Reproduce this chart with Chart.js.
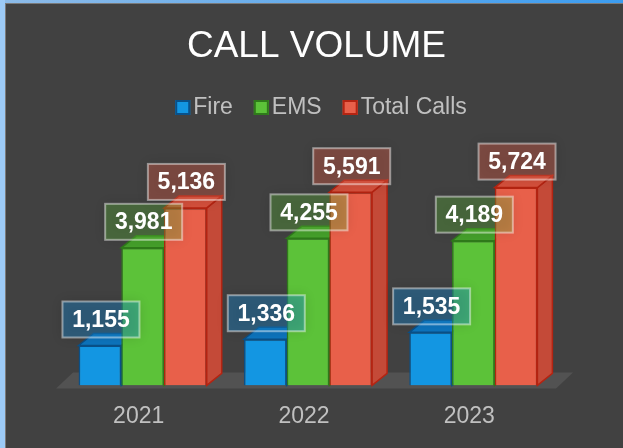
<!DOCTYPE html>
<html>
<head>
<meta charset="utf-8">
<script src="https://cdn.jsdelivr.net/npm/chart.js@4"></script>
<style>
  html, body { margin: 0; padding: 0; background: #414141; }
  #wrap { width: 623px; height: 448px; position: relative; }
</style>
</head>
<body>
<div id="wrap"><canvas id="callVolumeChart" width="623" height="448"></canvas></div>
<script>
// values
const years = ['2021', '2022', '2023'];
const fireCalls = [1155, 1336, 1535];
const emsCalls = [3981, 4255, 4189];
const totalCalls = [5136, 5591, 5724];

const FONT = '"Liberation Sans", Arial, sans-serif';

// front, top, side, edge colours for each series
const palette = [
  { front: '#1396e2', top: '#0d74bd', side: '#0b65a6', edge: '#0a5088', box: 'rgba(24,140,215,0.38)' },
  { front: '#5cc239', top: '#45a02b', side: '#3c8e25', edge: '#2f7a1b', box: 'rgba(100,200,60,0.30)' },
  { front: '#e8604a', top: '#d4503c', side: '#c44a38', edge: '#b42412', box: 'rgba(232,96,74,0.36)' }
];

const DX = 15, DY = 12;

// background with the blue window edge, title and legend
const backdrop = {
  id: 'backdrop',
  beforeDraw(chart) {
    const ctx = chart.ctx;
    ctx.save();
    ctx.fillStyle = '#414141';
    ctx.fillRect(0, 0, chart.width, chart.height);
    const g = ctx.createLinearGradient(0, 0, chart.width, 0);
    g.addColorStop(0, '#8dbbe8');
    g.addColorStop(1, '#3b9cf0');
    ctx.fillStyle = g;
    ctx.fillRect(0, 0, chart.width, 3);
    ctx.fillStyle = '#9ccaf6';
    ctx.fillRect(0, 0, 5, chart.height);
    ctx.fillStyle = '#7a7a7a';
    ctx.fillRect(5, 3, 1, chart.height);
    ctx.fillRect(5, 3, chart.width, 1);

    ctx.fillStyle = '#ffffff';
    ctx.font = '37px ' + FONT;
    ctx.textAlign = 'center';
    ctx.textBaseline = 'alphabetic';
    ctx.fillText('CALL VOLUME', 316.5, 57);

    ctx.font = '23px ' + FONT;
    ctx.textAlign = 'left';
    const items = chart.data.datasets.map((d, i) => ({ label: d.label, w: ctx.measureText(d.label).width, c: palette[i] }));
    const total = items.reduce((s, it) => s + 15 + 3 + it.w, 0) + 21 * (items.length - 1);
    let x = 321 - total / 2;
    items.forEach(it => {
      ctx.fillStyle = it.c.front;
      ctx.fillRect(x, 100, 15, 15);
      ctx.strokeStyle = it.c.edge;
      ctx.lineWidth = 2;
      ctx.strokeRect(x + 1, 101, 13, 13);
      ctx.fillStyle = '#c0c0c0';
      ctx.fillText(it.label, x + 18, 114);
      x += 18 + it.w + 21;
    });
    ctx.restore();
  }
};

// floor, top faces and side faces behind the front faces, labels on top
const depth = {
  id: 'depth',
  beforeDatasetsDraw(chart) {
    const ctx = chart.ctx;
    const area = chart.chartArea;
    ctx.save();
    ctx.fillStyle = '#525252';
    ctx.beginPath();
    ctx.moveTo(area.left - 4, area.bottom + 3);
    ctx.lineTo(area.right, area.bottom + 3);
    ctx.lineTo(area.right + DX + 2, area.bottom - DY - 1);
    ctx.lineTo(area.left + DX - 2, area.bottom - DY - 1);
    ctx.closePath();
    ctx.fill();

    chart.data.datasets.forEach((ds, i) => {
      const meta = chart.getDatasetMeta(i);
      const c = palette[i];
      meta.data.forEach(bar => {
        const x0 = bar.x - bar.width / 2, x1 = bar.x + bar.width / 2;
        const top = bar.y, base = bar.base;
        ctx.lineWidth = 1.5;
        ctx.strokeStyle = c.edge;
        ctx.fillStyle = c.side;
        ctx.beginPath();
        ctx.moveTo(x1, top);
        ctx.lineTo(x1 + DX, top - DY);
        ctx.lineTo(x1 + DX, base - DY);
        ctx.lineTo(x1, base);
        ctx.closePath();
        ctx.fill();
        ctx.stroke();
        ctx.fillStyle = c.top;
        ctx.beginPath();
        ctx.moveTo(x0, top);
        ctx.lineTo(x1, top);
        ctx.lineTo(x1 + DX, top - DY);
        ctx.lineTo(x0 + DX, top - DY);
        ctx.closePath();
        ctx.fill();
        ctx.stroke();
      });
    });
    ctx.restore();
  },
  afterDatasetsDraw(chart) {
    const ctx = chart.ctx;
    ctx.save();
    ctx.font = 'bold 23px ' + FONT;
    ctx.textAlign = 'center';
    ctx.textBaseline = 'middle';
    chart.data.datasets.forEach((ds, i) => {
      const meta = chart.getDatasetMeta(i);
      const c = palette[i];
      meta.data.forEach((bar, j) => {
        const w = 77, h = 36;
        const bx = bar.x - w / 2 + 1, by = bar.y - 8 - h;
        ctx.shadowColor = 'rgba(0,0,0,0.35)';
        ctx.shadowBlur = 12;
        ctx.fillStyle = c.box;
        ctx.fillRect(bx, by, w, h);
        ctx.shadowBlur = 0;
        ctx.shadowColor = 'transparent';
        ctx.strokeStyle = 'rgba(255,255,255,0.45)';
        ctx.lineWidth = 2;
        ctx.strokeRect(bx, by, w, h);
        ctx.fillStyle = '#ffffff';
        ctx.fillText(ds.data[j].toLocaleString('en-US'), bx + w / 2, by + h / 2 + 1);
      });
    });
    ctx.restore();
  }
};

const ctx = document.getElementById('callVolumeChart').getContext('2d');
new Chart(ctx, {
  type: 'bar',
  data: {
    labels: years,
    datasets: [
      { label: 'Fire', data: fireCalls },
      { label: 'EMS', data: emsCalls },
      { label: 'Total Calls', data: totalCalls }
    ].map((d, i) => Object.assign(d, {
      backgroundColor: palette[i].front,
      borderColor: palette[i].edge,
      borderWidth: 1.5,
      barPercentage: 1,
      categoryPercentage: 0.775
    }))
  },
  options: {
    responsive: false,
    animation: false,
    layout: { padding: { top: 143.5, left: 60, right: 67, bottom: 1 } },
    scales: {
      x: {
        grid: { display: false, drawTicks: false },
        border: { display: false },
        ticks: { color: '#c0c0c0', font: { size: 23, family: FONT }, padding: 17, labelOffset: -4 }
      },
      y: { display: false, min: 0, max: 7000 }
    },
    plugins: {
      legend: { display: false },
      title: { display: false },
      tooltip: { enabled: false }
    }
  },
  plugins: [backdrop, depth]
});
</script>
</body>
</html>
